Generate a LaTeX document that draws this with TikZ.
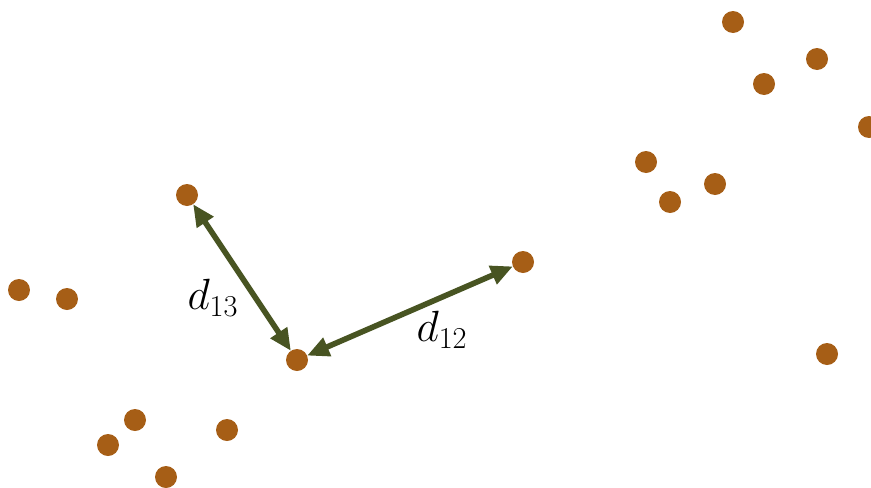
\documentclass[tikz,border=0pt]{standalone}
\usepackage{xcolor}
\usepackage{tikz}
\usetikzlibrary{arrows.meta}
\definecolor{dotbrown}{RGB}{166,94,22}
\definecolor{arrolive}{RGB}{72,84,34}
\newcommand{\subidx}[1]{\mbox{\fontsize{17.28}{20}\selectfont #1}}

\begin{document}
\begin{tikzpicture}[x=0.02cm, y=-0.02cm,
  pt/.style={circle, fill=dotbrown, inner sep=0pt, minimum size=0.44cm, outer sep=0pt},
  arr/.style={{Triangle[length=4.4mm, width=3.8mm]}-{Triangle[length=4.4mm, width=3.8mm]},
              arrolive, line width=3.2pt},
  lbl/.style={font=\fontsize{24.88}{28}\selectfont, inner sep=1pt}]

\useasboundingbox (0,0) rectangle (871,487);

% the three points that are measured
\node[pt] (p1) at (297,360) {};
\node[pt] (p2) at (523,262) {};
\node[pt] (p3) at (187,195) {};

% the others
\foreach \px/\py [count=\i] in {733/22, 817/59, 764/84, 869/127, 646/162, 715/184,
    670/202, 19/290, 67/299, 827/354, 135/420, 227/430, 108/445, 166/477}
  \node[pt] (q\i) at (\px,\py) {};

\draw[arr] (p1) -- (p2);
\draw[arr] (p1) -- (p3);

\node[lbl] (l12) at (442,330) {$d_{\subidx{12}}$};
\node[lbl] (l13) at (213,298) {$d_{\subidx{13}}$};
\end{tikzpicture}
\end{document}
